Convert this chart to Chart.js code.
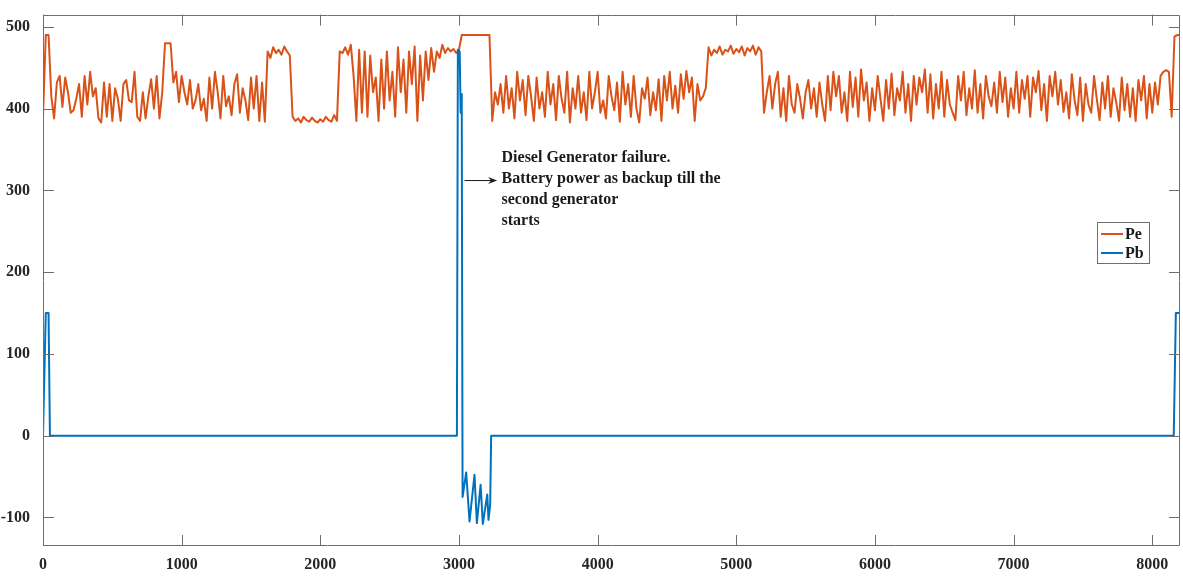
<!DOCTYPE html>
<html>
<head>
<meta charset="utf-8">
<script src="https://cdn.jsdelivr.net/npm/chart.js@4.4.1/dist/chart.umd.min.js"></script>
<style>
html,body{margin:0;padding:0;background:#fff;}
#wrap{width:1183px;height:587px;position:relative;}
</style>
</head>
<body>
<div id="wrap"><canvas id="c" width="1183" height="587"></canvas></div>
<script>
// ---- Data ----
const peStep = 20; // x spacing of Pe samples
const peValues = [
  // 0 - 980
  390,490,490,415,388,432,440,402,438,420, 395,398,412,430,390,440,405,445,415,425,
  388,383,432,390,430,385,425,412,385,430, 435,410,408,445,390,385,420,388,415,436,
  400,440,388,420,480,480,480,432,445,408,
  // 1000 - 1980
  440,420,405,435,400,410,430,398,412,385, 438,400,445,420,388,440,403,415,392,430,
  442,395,425,410,386,438,400,440,385,432, 384,470,462,475,468,472,466,476,470,465,
  390,385,388,383,390,386,384,389,385,383,
  // 2000 - 2980
  387,384,390,386,384,392,385,470,468,475, 466,478,440,385,472,395,470,390,465,420,
  438,385,460,400,470,410,445,390,475,420, 460,395,470,430,476,385,465,410,470,435,
  474,445,470,462,478,468,474,470,473,468,
  // 3000 - 3980
  472,490,490,490,490,490,490,490,490,490, 490,490,385,420,405,430,395,440,400,425,
  388,445,410,435,392,440,415,385,438,400, 420,390,445,405,430,386,440,412,395,445,
  383,425,400,440,395,420,386,445,400,420,
  // 4000 - 4980
  445,395,410,388,440,415,398,432,384,445, 405,430,390,440,400,383,425,412,438,392,
  420,398,436,385,440,410,445,400,428,395, 442,412,446,420,438,385,430,410,415,425,
  475,465,472,468,476,466,472,470,477,467,
  // 5000 - 5980
  473,469,476,465,474,470,477,466,475,470, 395,420,440,400,430,445,390,425,385,440,
  405,395,430,412,388,420,435,400,425,390, 432,405,385,440,398,445,415,440,395,420,
  385,445,402,438,390,448,410,432,385,425,
  // 6000 - 6980
  398,440,412,385,435,400,443,392,425,410, 445,395,430,385,440,405,438,420,448,395,
  442,388,430,400,445,390,435,405,395,386, 440,410,445,392,425,400,447,395,430,388,
  440,415,403,432,395,445,408,438,390,425,
  // 7000 - 7980
  400,445,395,435,412,440,390,438,420,446, 398,430,385,440,415,445,405,435,396,420,
  388,442,410,392,438,385,430,405,395,440, 412,386,432,400,440,390,425,408,385,438,
  398,430,390,425,385,435,410,440,388,430,
  // 8000 - 8200
  395,432,405,440,445,447,445,390,488,490,490
];

const pbX = [0, 20, 40, 50, 2985, 2992, 3005, 3012, 3016, 3020, 3026, 3052, 3076, 3112, 3129, 3156, 3172, 3204, 3213, 3225, 3232, 8155, 8170, 8200];
const pbY = [0, 150, 150, 0, 0, 472, 470, 395, 418, 400, -75, -45, -105, -48, -107, -60, -108, -72, -103, -85, 0, 0, 150, 150];

const xTicks = [0,1000,2000,3000,4000,5000,6000,7000,8000];
const yTicks = [-100,0,100,200,300,400,500];

const annoLines = ['Diesel Generator failure.', 'Battery power as backup till the', 'second generator', 'starts'];

// ---- Build ----
const peData = peValues.map((v,i)=>({x:i*peStep, y:v}));
const pbData = pbX.map((x,i)=>({x:x, y:pbY[i]}));

const FONT = '"Liberation Serif", "Times New Roman", serif';

const decor = {
  id:'decor',
  afterDraw(chart){
    const ctx = chart.ctx, a = chart.chartArea;
    const xs = chart.scales.x, ys = chart.scales.y;
    ctx.save();
    ctx.strokeStyle = '#6e6e6e';
    ctx.lineWidth = 1;
    ctx.beginPath();
    ctx.rect(Math.round(a.left)+0.5, Math.round(a.top)+0.5, Math.round(a.right-a.left)-1, Math.round(a.bottom-a.top)-1);
    ctx.stroke();
    const tl = 11;
    ctx.beginPath();
    xTicks.forEach(t=>{
      const px = Math.round(xs.getPixelForValue(t))+0.5;
      ctx.moveTo(px, a.bottom); ctx.lineTo(px, a.bottom-tl);
      ctx.moveTo(px, a.top); ctx.lineTo(px, a.top+tl);
    });
    yTicks.forEach(t=>{
      const py = Math.round(ys.getPixelForValue(t))+0.5;
      ctx.moveTo(a.left, py); ctx.lineTo(a.left+tl, py);
      ctx.moveTo(a.right, py); ctx.lineTo(a.right-tl, py);
    });
    ctx.stroke();

    // annotation arrow
    const ay = ys.getPixelForValue(312);
    const ax0 = xs.getPixelForValue(3040), ax1 = xs.getPixelForValue(3275);
    ctx.strokeStyle = '#1a1a1a';
    ctx.fillStyle = '#1a1a1a';
    ctx.beginPath(); ctx.moveTo(ax0, ay); ctx.lineTo(ax1-6, ay); ctx.stroke();
    ctx.beginPath(); ctx.moveTo(ax1, ay); ctx.lineTo(ax1-9, ay-3.5); ctx.lineTo(ax1-6, ay); ctx.lineTo(ax1-9, ay+3.5); ctx.closePath(); ctx.fill();

    ctx.font = 'bold 16px ' + FONT;
    ctx.textBaseline = 'middle';
    ctx.textAlign = 'left';
    const tx = xs.getPixelForValue(3307);
    const ty0 = ys.getPixelForValue(340);
    annoLines.forEach((s,i)=>{ ctx.fillText(s, tx, ty0 + i*21); });

    // legend
    const lx = 1097, ly = 222, lw = 52, lh = 41;
    ctx.fillStyle = '#fff';
    ctx.fillRect(lx, ly, lw, lh);
    ctx.strokeStyle = '#6e6e6e';
    ctx.strokeRect(lx+0.5, ly+0.5, lw, lh);
    chart.data.datasets.forEach((ds,i)=>{
      const yy = ly + 12 + i*19;
      ctx.strokeStyle = ds.borderColor; ctx.lineWidth = 2;
      ctx.beginPath(); ctx.moveTo(lx+4, yy); ctx.lineTo(lx+26, yy); ctx.stroke();
      ctx.fillStyle = '#1a1a1a';
      ctx.fillText(ds.label, lx+28, yy+1);
    });
    ctx.restore();
  }
};

new Chart(document.getElementById('c'), {
  type:'line',
  data:{
    datasets:[
      {label:'Pe', data:peData, borderColor:'#D95319', borderWidth:2, borderJoinStyle:'round', pointRadius:0, tension:0, order:2},
      {label:'Pb', data:pbData, borderColor:'#0072BD', borderWidth:2, borderJoinStyle:'round', pointRadius:0, tension:0, order:1}
    ]
  },
  options:{
    responsive:false,
    animation:false,
    devicePixelRatio:1,
    layout:{padding:{top:11, right:3, left:0, bottom:0}},
    plugins:{legend:{display:false}, tooltip:{enabled:false}},
    scales:{
      x:{
        type:'linear', min:0, max:8200,
        afterBuildTicks(s){ s.ticks = xTicks.map(v=>({value:v})); },
        afterFit(s){ s.height = 41; },
        grid:{display:false}, border:{display:false},
        ticks:{font:{family:FONT, size:16, weight:'bold'}, color:'#262626', padding:1, maxRotation:0, autoSkip:false,
               callback:(v)=>String(v)}
      },
      y:{
        type:'linear', min:-135, max:515,
        afterBuildTicks(s){ s.ticks = yTicks.map(v=>({value:v})); },
        afterFit(s){ s.width = 43; },
        grid:{display:false}, border:{display:false},
        ticks:{font:{family:FONT, size:16, weight:'bold'}, color:'#262626', padding:5,
               callback:(v)=>String(v)}
      }
    }
  },
  plugins:[decor]
});
</script>
</body>
</html>
